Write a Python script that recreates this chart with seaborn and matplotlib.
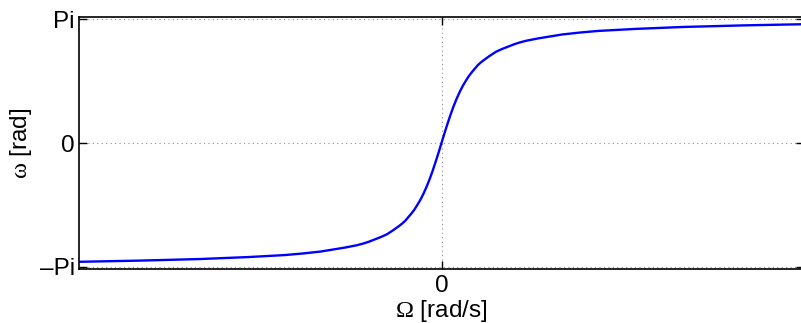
import numpy as np
import pandas as pd
import matplotlib
matplotlib.use("Agg")
import matplotlib.pyplot as plt
import seaborn as sns

# Analog frequency Omega [rad/s] and digital frequency omega [rad]
omega_analog = [-30, -25, -20, -16, -13, -11.5, -10, -9, -8, -7, -6.5, -6, -5.5, -5, -4.5, -4,
                -3.5, -3.25, -3, -2.75, -2.5, -2.25, -2, -1.75, -1.5, -1.25, -1, -0.75, -0.5, -0.25,
                0, 0.25, 0.5, 0.75, 1, 1.25, 1.5, 1.75, 2, 2.25, 2.5, 2.75, 3, 3.25, 3.5,
                4, 4.5, 5, 5.5, 6, 6.5, 7, 8, 9, 10, 11.5, 13, 16, 20, 25, 30]
omega_digital = [-3.01, -2.98, -2.94, -2.89, -2.84, -2.80, -2.75, -2.70, -2.65, -2.59, -2.55,
                 -2.50, -2.44, -2.38, -2.31, -2.21, -2.10, -2.04, -1.97, -1.88, -1.79, -1.69,
                 -1.57, -1.44, -1.29, -1.12, -0.93, -0.72, -0.49, -0.25,
                 0.0, 0.25, 0.49, 0.72, 0.93, 1.12, 1.29, 1.44, 1.57, 1.69, 1.79, 1.88, 1.97,
                 2.04, 2.10, 2.21, 2.31, 2.38, 2.44, 2.50, 2.55, 2.59, 2.65, 2.70, 2.75, 2.80,
                 2.84, 2.89, 2.94, 2.98, 3.01]
y_ticks = [-np.pi, 0, np.pi]
y_tick_labels = ["\u2013Pi", "0", "Pi"]
x_ticks = [0]
x_tick_labels = ["0"]

df = pd.DataFrame({"Omega": omega_analog, "omega": omega_digital})

sns.set_style("white")
plt.rcParams["font.family"] = ["Liberation Sans", "DejaVu Sans"]
plt.rcParams["mathtext.fontset"] = "custom"
plt.rcParams["mathtext.rm"] = "Liberation Serif"
plt.rcParams["mathtext.it"] = "Liberation Serif"
plt.rcParams["text.color"] = "black"
plt.rcParams["axes.labelcolor"] = "black"
plt.rcParams["xtick.color"] = "black"
plt.rcParams["ytick.color"] = "black"

FS = 17.5
W, H = 801, 323
fig = plt.figure(figsize=(W / 100, H / 100), dpi=100)
ax = fig.add_axes([79 / W, (H - 269.3) / H, 725 / W, 252.6 / H])

sns.lineplot(data=df, x="Omega", y="omega", ax=ax, color=(0, 0, 1), linewidth=1.7, sort=False)

ax.set_xlim(-30, 30)
ax.set_ylim(-3.2, 3.2)
ax.set_xticks(x_ticks)
ax.set_xticklabels(x_tick_labels)
ax.set_yticks(y_ticks)
ax.set_yticklabels(y_tick_labels)

ax.grid(True, color="#8c8c8c", linestyle=(0, (1, 3)), linewidth=0.8)
for s in ax.spines.values():
    s.set_visible(True)
    s.set_color("black")
    s.set_linewidth(1.2)

ax.tick_params(direction="in", length=6, width=1.0, color="black",
               top=True, right=True, bottom=True, left=True,
               labelsize=FS, labelcolor="black")
ax.tick_params(axis="x", pad=4)
ax.tick_params(axis="y", pad=3)

ax.set_xlabel(r"$\mathrm{\Omega}$ [rad/s]", fontsize=FS, labelpad=1, color="black")
ax.set_ylabel(r"$\mathrm{\omega}$ [rad]", fontsize=FS, labelpad=4, color="black")

fig.savefig("out.png", dpi=100)
